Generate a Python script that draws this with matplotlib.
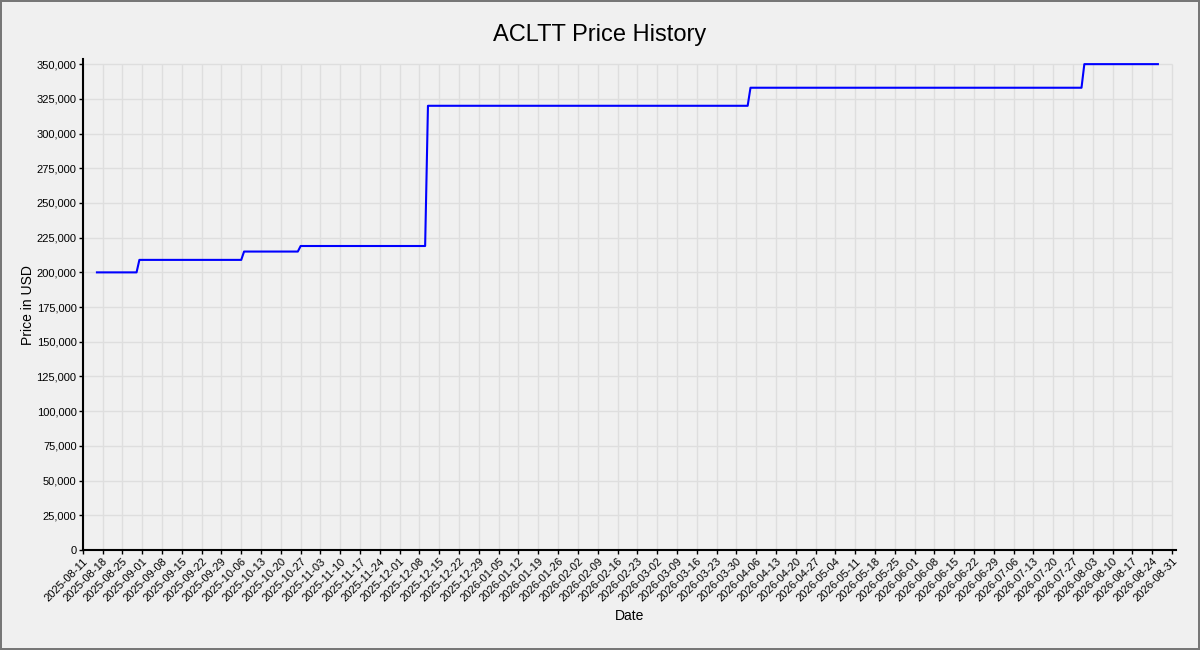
import datetime as dt
import matplotlib
matplotlib.use("Agg")
import matplotlib.pyplot as plt
import matplotlib.dates as mdates
from matplotlib.ticker import FuncFormatter

plt.rcParams['font.family'] = ['Liberation Sans', 'DejaVu Sans']

# price levels: each level runs from a start date to an end date
start_dates = ["2025-08-16", "2025-08-31", "2025-10-07", "2025-10-27",
               "2025-12-11", "2026-04-04", "2026-07-31"]
end_dates = ["2025-08-30", "2025-10-06", "2025-10-26", "2025-12-10",
             "2026-04-03", "2026-07-30", "2026-08-26"]
prices = [200000, 209000, 215000, 219000, 320000, 333000, 350000]

x = []
y = []
for s, e, p in zip(start_dates, end_dates, prices):
    x.append(dt.datetime.strptime(s, "%Y-%m-%d"))
    y.append(p)
    x.append(dt.datetime.strptime(e, "%Y-%m-%d"))
    y.append(p)

x_first = dt.datetime(2025, 8, 11)
x_last = dt.datetime(2026, 8, 31)
y_top = 350000

fig = plt.figure(figsize=(12, 6.5), dpi=100, facecolor="#f0f0f0",
                 edgecolor="#777777", linewidth=1.5)
ax = fig.add_axes([0.069, 0.1538, 0.911, 0.755])
ax.set_facecolor("#f0f0f0")

ax.set_xlim(x_first, x_last + dt.timedelta(days=1.4))
ax.set_ylim(0, 353500)
ax.xaxis.set_major_locator(mdates.WeekdayLocator(byweekday=mdates.MO))
ax.xaxis.set_major_formatter(mdates.DateFormatter("%Y-%m-%d"))
ax.yaxis.set_major_locator(plt.MultipleLocator(25000))
ax.yaxis.set_major_formatter(FuncFormatter(lambda v, pos: f"{int(v):,}"))
plt.setp(ax.get_xticklabels(), rotation=45, ha="right", rotation_mode="anchor")
ax.tick_params(labelsize=8, length=3, width=1, pad=1.5)

# grid only inside the tick range
xt = [t for t in ax.get_xticks() if t <= mdates.date2num(x_last) + 0.01]
yt = [t for t in ax.get_yticks() if 0 <= t <= y_top]
ax.vlines(xt, 0, y_top, color="#dedede", linewidth=1, zorder=0)
ax.hlines(yt, mdates.date2num(x_first), mdates.date2num(x_last),
          color="#dedede", linewidth=1, zorder=0)

ax.plot(x, y, color="blue", linewidth=1.5, zorder=3)

for side in ["top", "right"]:
    ax.spines[side].set_visible(False)
for side in ["left", "bottom"]:
    ax.spines[side].set_linewidth(1.5)

fig.text(0.5, 0.946, "ACLTT Price History", fontsize=17,
         ha="center", va="center")
ax.set_xlabel("Date", fontsize=10)
ax.set_ylabel("Price in USD", fontsize=10, labelpad=1)

fig.savefig("out.png", dpi=100, facecolor=fig.get_facecolor(),
            edgecolor=fig.get_edgecolor())
